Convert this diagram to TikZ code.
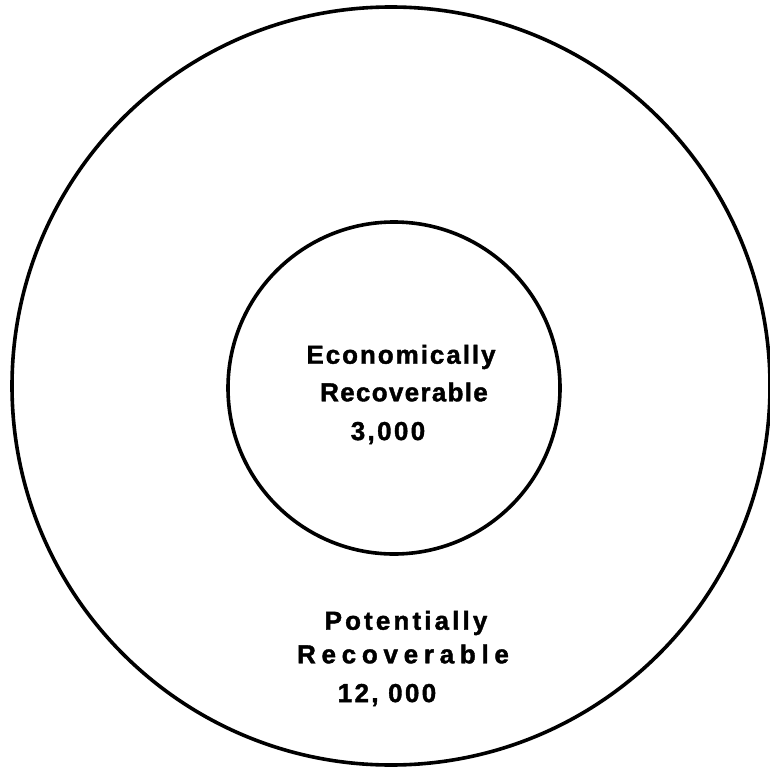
\documentclass[tikz,border=0pt]{standalone}
\usepackage{fontspec}
\setmainfont{Liberation Sans}[BoldFont={* Bold}]
\newfontfamily\lsA{Liberation Sans Bold}[LetterSpace=7.5,FakeBold=1.5]
\newfontfamily\lsB{Liberation Sans Bold}[LetterSpace=5,FakeBold=1.5]
\newfontfamily\lsC{Liberation Sans Bold}[LetterSpace=22,FakeBold=1.5]
\newfontfamily\lsD{Liberation Sans Bold}[LetterSpace=12,FakeBold=1.5]
\newfontfamily\lsE{Liberation Sans Bold}[LetterSpace=9,FakeBold=1.5]
\begin{document}
\begin{tikzpicture}[x=1pt,y=-1pt,
  ring/.style={draw=black,line width=3.6pt},
  lbl/.style={inner sep=0pt,anchor=center,font=\fontsize{26}{28}\selectfont}]
\useasboundingbox (0,0) rectangle (770,770);
\fill[white] (0,0) rectangle (770,770);
\begin{scope}
\clip (0,0) rectangle (770,770);
\draw[ring] (391,386) circle[radius=379];
\draw[ring] (394,388) circle[radius=166];
\end{scope}
\node[lbl] (econ) at (401,357) {\lsA Economically};
\node[lbl] (rec1) at (404,392) {\lsB Recoverable};
\node[lbl] (n3) at (388,433) {\lsE 3,000};
\node[lbl] (pot) at (406,623) {\lsD Potentially};
\node[lbl] (rec2) at (403,654) {\lsC Recoverable};
\node[lbl] (n12) at (387,695) {\lsE 12, 000};
\end{tikzpicture}
\end{document}
